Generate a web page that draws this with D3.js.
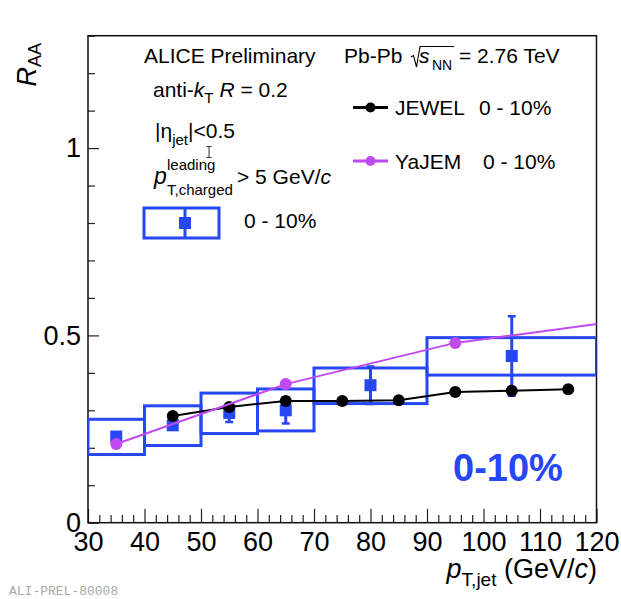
<!DOCTYPE html>
<html>
<head>
<meta charset="utf-8">
<script src="https://cdn.jsdelivr.net/npm/d3@7"></script>
<style>
  html, body { margin: 0; padding: 0; background: #fff; }
  svg text { white-space: pre; font-family: "Liberation Sans", Arial, Helvetica, sans-serif; }
</style>
</head>
<body>
<svg id="chart" width="621" height="599"></svg>
<script>
// ALICE jet R_AA, 0-10% central Pb-Pb, anti-kT R = 0.2
const binLo   = [30, 40, 50, 60, 70, 90];
const binHi   = [40, 50, 60, 70, 90, 120];
const dataX   = [35, 45, 55, 65, 80, 105];
const dataY   = [0.230, 0.260, 0.293, 0.300, 0.367, 0.445];
const statErr = [0.010, 0.010, 0.024, 0.035, 0.050, 0.106];
const sysLo   = [0.182, 0.206, 0.238, 0.245, 0.318, 0.394];
const sysHi   = [0.276, 0.312, 0.346, 0.357, 0.413, 0.494];

const jewelX = [45, 55, 65, 75, 85, 95, 105, 115];
const jewelY = [0.285, 0.309, 0.325, 0.325, 0.327, 0.349, 0.352, 0.356];

const yajemX = [35, 65, 95, 125];
const yajemY = [0.210, 0.370, 0.480, 0.540];

const xMajorTicks = [30, 40, 50, 60, 70, 80, 90, 100, 110, 120];
const yMajorTicks = [0, 0.5, 1];
const yTickLabels = ["0", "0.5", "1"];

const BLUE = "#2746f5";
const MAGENTA = "#c04af2";

const svg = d3.select("#chart");
const frame = { left: 88, right: 596.5, top: 35.7, bottom: 522.7 };

const x = d3.scaleLinear().domain([30, 120]).range([frame.left, frame.right]);
const y = d3.scaleLinear().domain([0, 1.3]).range([frame.bottom, frame.top]);

svg.append("defs").append("clipPath").attr("id", "plotClip")
  .append("rect")
  .attr("x", frame.left).attr("y", frame.top)
  .attr("width", frame.right - frame.left).attr("height", frame.bottom - frame.top);

// ---- axes ----
const xMinor = d3.range(30, 120.01, 2).filter(v => v % 10 !== 0);
const yMinor = d3.range(0, 13.01, 1).map(v => v / 10).filter(v => Math.abs(v * 2 - Math.round(v * 2)) > 1e-6);

const axisFont = 27;

const gx = svg.append("g").attr("transform", `translate(0,${frame.bottom})`)
  .call(d3.axisBottom(x).tickValues(xMajorTicks).tickSize(-14).tickPadding(9).tickFormat(d3.format("d")));
svg.append("g").attr("transform", `translate(0,${frame.bottom})`)
  .call(d3.axisBottom(x).tickValues(xMinor).tickSize(-7.7).tickFormat(""));

const gy = svg.append("g").attr("transform", `translate(${frame.left},0)`)
  .call(d3.axisLeft(y).tickValues(yMajorTicks).tickSize(-11).tickPadding(7)
    .tickFormat((d, i) => yTickLabels[i]));
svg.append("g").attr("transform", `translate(${frame.left},0)`)
  .call(d3.axisLeft(y).tickValues(yMinor).tickSize(-7).tickFormat(""));

svg.selectAll(".domain").remove();
svg.selectAll(".tick line").attr("stroke", "#222").attr("stroke-width", 1.2);
svg.selectAll(".tick text")
  .attr("fill", "#000")
  .style("font-size", axisFont + "px")
  .style("font-family", "'Liberation Sans', Arial, sans-serif");

svg.append("rect")
  .attr("x", frame.left).attr("y", frame.top)
  .attr("width", frame.right - frame.left).attr("height", frame.bottom - frame.top)
  .attr("fill", "none").attr("stroke", "#111").attr("stroke-width", 1.5);

// ---- axis titles ----
const xTitle = svg.append("text")
  .attr("x", 597).attr("y", 578)
  .attr("text-anchor", "end")
  .style("font-size", "27px");
xTitle.append("tspan").style("font-style", "italic").text("p");
xTitle.append("tspan").attr("dy", 8).style("font-size", "19px").text("T,jet");
xTitle.append("tspan").attr("dy", -8).text(" (GeV/");
xTitle.append("tspan").style("font-style", "italic").text("c");
xTitle.append("tspan").text(")");

const yTitle = svg.append("text")
  .attr("transform", "translate(36,43) rotate(-90)")
  .attr("text-anchor", "end")
  .style("font-size", "27px");
yTitle.append("tspan").style("font-style", "italic").text("R");
yTitle.append("tspan").attr("dy", 5).style("font-size", "18px").text("AA");

// ---- data ----
const plot = svg.append("g").attr("clip-path", "url(#plotClip)");

// systematic boxes
plot.selectAll("rect.sys")
  .data(binLo.map((lo, i) => ({ lo, hi: binHi[i], a: sysLo[i], b: sysHi[i] })))
  .join("rect").attr("class", "sys")
  .attr("x", d => x(d.lo)).attr("y", d => y(d.b))
  .attr("width", d => x(d.hi) - x(d.lo)).attr("height", d => y(d.a) - y(d.b))
  .attr("fill", "none").attr("stroke", BLUE).attr("stroke-width", 3);

// statistical error bars with caps
const pts = dataX.map((vx, i) => ({ vx, vy: dataY[i], e: statErr[i] }));
plot.selectAll("line.stat")
  .data(pts).join("line").attr("class", "stat")
  .attr("x1", d => x(d.vx)).attr("x2", d => x(d.vx))
  .attr("y1", d => y(d.vy - d.e)).attr("y2", d => y(d.vy + d.e))
  .attr("stroke", BLUE).attr("stroke-width", 3);
plot.selectAll("path.cap")
  .data(pts).join("path").attr("class", "cap")
  .attr("d", d => `M${x(d.vx) - 4},${y(d.vy - d.e)}H${x(d.vx) + 4}M${x(d.vx) - 4},${y(d.vy + d.e)}H${x(d.vx) + 4}`)
  .attr("stroke", BLUE).attr("stroke-width", 2.5);
plot.selectAll("rect.pt")
  .data(pts).join("rect").attr("class", "pt")
  .attr("x", d => x(d.vx) - 6).attr("y", d => y(d.vy) - 6)
  .attr("width", 12).attr("height", 12).attr("fill", BLUE);

// JEWEL
const jewel = jewelX.map((vx, i) => [vx, jewelY[i]]);
const line = d3.line().x(d => x(d[0])).y(d => y(d[1]));
plot.append("path").attr("d", line(jewel))
  .attr("fill", "none").attr("stroke", "#000").attr("stroke-width", 2);
plot.selectAll("circle.jewel").data(jewel).join("circle").attr("class", "jewel")
  .attr("cx", d => x(d[0])).attr("cy", d => y(d[1])).attr("r", 6).attr("fill", "#000");

// YaJEM
const yajem = yajemX.map((vx, i) => [vx, yajemY[i]]);
plot.append("path").attr("d", line(yajem))
  .attr("fill", "none").attr("stroke", MAGENTA).attr("stroke-width", 2);
plot.selectAll("circle.yajem").data(yajem).join("circle").attr("class", "yajem")
  .attr("cx", d => x(d[0])).attr("cy", d => y(d[1])).attr("r", 6).attr("fill", MAGENTA);

// ---- annotations ----
const F = "21px";
svg.append("text").attr("x", 144).attr("y", 63).style("font-size", F).text("ALICE Preliminary");

svg.append("text").attr("x", 344).attr("y", 63).style("font-size", F).text("Pb-Pb");
svg.append("path")
  .attr("d", "M411,57 L413.5,55.5 L416.5,67 L420,46.5 L454,46.5")
  .attr("fill", "none").attr("stroke", "#000").attr("stroke-width", 1.1);
svg.append("text").attr("x", 419).attr("y", 63).style("font-size", F).style("font-style", "italic").text("s");
svg.append("text").attr("x", 432).attr("y", 70).style("font-size", "14px").text("NN");
svg.append("text").attr("x", 459).attr("y", 63).style("font-size", F).text("= 2.76 TeV");

const akt = svg.append("text").attr("x", 153).attr("y", 97).style("font-size", F);
akt.append("tspan").text("anti-");
akt.append("tspan").style("font-style", "italic").text("k");
akt.append("tspan").attr("dy", 6).style("font-size", "15px").text("T");
akt.append("tspan").attr("dy", -6).text(" ");
akt.append("tspan").style("font-style", "italic").text("R");
akt.append("tspan").text(" = 0.2");

const eta = svg.append("text").attr("x", 155).attr("y", 138).style("font-size", F);
eta.append("tspan").text("|η");
eta.append("tspan").attr("dy", 7).style("font-size", "15px").text("jet");
eta.append("tspan").attr("dy", -7).text("|<0.5");

// text cursor glyph
svg.append("path").attr("d", "M206.5,146.5h5M209,146.5v11M206.5,157.5h5")
  .attr("stroke", "#333").attr("stroke-width", 1).attr("fill", "none");

svg.append("text").attr("x", 154).attr("y", 184).style("font-size", "23px").style("font-style", "italic").text("p");
svg.append("text").attr("x", 167).attr("y", 170).style("font-size", "15px").text("leading");
svg.append("text").attr("x", 167).attr("y", 195).style("font-size", "15px").text("T,charged");
const cut = svg.append("text").attr("x", 237).attr("y", 184).style("font-size", F);
cut.append("tspan").text("> 5 GeV/");
cut.append("tspan").style("font-style", "italic").text("c");

// data legend entry
svg.append("rect").attr("x", 144).attr("y", 208).attr("width", 75).attr("height", 30)
  .attr("fill", "none").attr("stroke", BLUE).attr("stroke-width", 3);
svg.append("line").attr("x1", 185).attr("x2", 185).attr("y1", 208).attr("y2", 238)
  .attr("stroke", BLUE).attr("stroke-width", 3);
svg.append("rect").attr("x", 179).attr("y", 217).attr("width", 12).attr("height", 12).attr("fill", BLUE);
svg.append("text").attr("x", 244).attr("y", 228).style("font-size", F).text("0 - 10%");

// model legend entries
const modelLegend = [
  { name: "JEWEL", color: "#000", y: 107.5, numX: 479 },
  { name: "YaJEM", color: MAGENTA, y: 161, numX: 483 }
];
modelLegend.forEach(m => {
  svg.append("line").attr("x1", 353).attr("x2", 388).attr("y1", m.y).attr("y2", m.y)
    .attr("stroke", m.color).attr("stroke-width", 3);
  svg.append("circle").attr("cx", 370.5).attr("cy", m.y).attr("r", 5).attr("fill", m.color);
  svg.append("text").attr("x", 395).attr("y", m.y + 7.5).style("font-size", F).text(m.name);
  svg.append("text").attr("x", m.numX).attr("y", m.y + 7.5).style("font-size", F).text("0 - 10%");
});

svg.append("text").attr("x", 453).attr("y", 480.5)
  .style("font-size", "38px").style("font-weight", "bold").attr("fill", BLUE).text("0-10%");

svg.append("text").attr("x", 9).attr("y", 595)
  .style("font-family", "'Liberation Mono', 'DejaVu Sans Mono', monospace")
  .style("font-size", "13px").attr("fill", "#a8a8a8").text("ALI-PREL-80008");
</script>
</body>
</html>
